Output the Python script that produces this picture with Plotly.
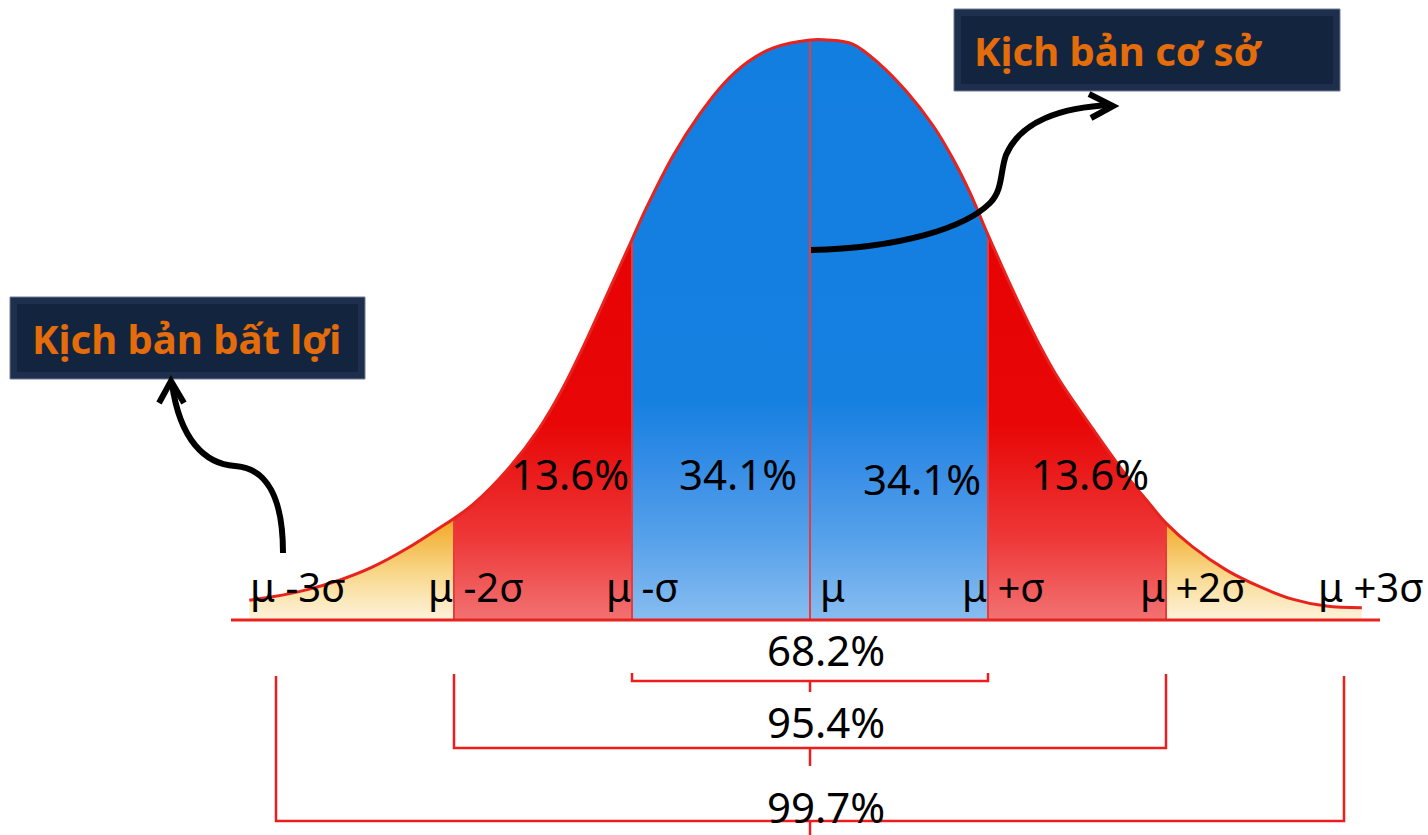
import plotly.graph_objects as go

# Bell curve outline, read as (position in sigma, height relative to the peak)
curve_sigma = [-3.15, -3.02, -2.83, -2.64, -2.46, -2.26, -2.08, -2.00, -1.89, -1.70,
               -1.52, -1.40, -1.28, -1.14, -1.00, -0.92, -0.77, -0.62, -0.49, -0.35,
               -0.21, 0.00, 0.10, 0.24, 0.39, 0.54, 0.69, 0.80, 0.90, 1.00,
               1.16, 1.29, 1.40, 1.59, 1.78, 1.89, 2.00, 2.15, 2.34, 2.53,
               2.71, 2.90, 3.10]
curve_height = [0.034, 0.040, 0.052, 0.069, 0.091, 0.124, 0.159, 0.175, 0.200, 0.259,
                0.331, 0.393, 0.467, 0.561, 0.656, 0.710, 0.800, 0.872, 0.923, 0.962,
                0.986, 1.000, 1.000, 0.993, 0.959, 0.912, 0.853, 0.797, 0.736, 0.664,
                0.555, 0.474, 0.414, 0.329, 0.248, 0.207, 0.167, 0.126, 0.086, 0.057,
                0.036, 0.024, 0.021]

# Bands between boundaries and the share of observations in each
band_edges = [-2, -1, 0, 1, 2]
band_pcts = [13.6, 34.1, 34.1, 13.6]

# Axis marks under the curve
tick_sigma = [-3, -2, -1, 0, 1, 2, 3]
tick_labels = ["μ -3σ", "μ -2σ", "μ -σ", "μ", "μ +σ", "μ +2σ", "μ +3σ"]

# Coverage brackets: half-width in sigma and total share inside
coverage_half = [1, 2, 3]
coverage_pcts = [68.2, 95.4, 99.7]

# Scenario call-outs
base_case = "Kịch bản cơ sở"
adverse_case = "Kịch bản bất lợi"

W, H = 1428, 835
MU_PX, SIGMA_PX = 810, 178          # horizontal placement of mu and one sigma
BASE_PX, PEAK_PX = 620, 580         # baseline row and peak height in pixels

FONT = "Noto Sans"
RED_LINE = "#e8231e"
X_LO, X_HI = -MU_PX / SIGMA_PX, (W - MU_PX) / SIGMA_PX


def height_at(s):
    return curve_height[curve_sigma.index(s)]


def paper(x, y):
    return x / W, 1 - y / H


def sigma_to_paper(s):
    return (MU_PX + s * SIGMA_PX) / W


def path(cmds):
    out = []
    for c in cmds:
        if isinstance(c, str):
            out.append(c)
        else:
            px, py = paper(*c)
            out.append(f"{px:.5f},{py:.5f}")
    return " ".join(out)


def yv(py):
    return (BASE_PX - py) / PEAK_PX


fig = go.Figure()
layout_axes = {}

# Each coloured region is the whole curve drawn on its own x-axis whose
# domain covers just that region, so every fill shares one smooth outline.
tail_scale = [[0, "#fdf3dc"], [0.45, "#f9d98f"], [1, "#f1aa28"]]
red_scale = [[0, "#f27272"], [0.14, "#ee3838"], [0.25, "#ea1c1c"], [0.34, "#e80606"], [1, "#e80000"]]
blue_scale = [[0, "#88bdf0"], [0.14, "#56a1ea"], [0.25, "#3a8fe6"], [0.38, "#1580e0"], [1, "#127ee0"]]

regions = [(X_LO, band_edges[0], tail_scale, 0.17)]
for lo, hi in zip(band_edges[:-1], band_edges[1:]):
    regions.append((lo, hi, blue_scale if abs(lo + hi) < 2 else red_scale, 1.0))
regions.append((band_edges[-1], X_HI, tail_scale, 0.17))

k = 1
for lo, hi, scale, stop in regions:
    k += 1
    layout_axes[f"xaxis{k}"] = dict(domain=[max(0, sigma_to_paper(lo)), min(1, sigma_to_paper(hi))],
                                    range=[lo, hi], visible=False, fixedrange=True, anchor="y")
    fig.add_trace(go.Scatter(
        x=curve_sigma, y=curve_height, xaxis=f"x{k}", yaxis="y",
        mode="lines", line=dict(width=0, shape="spline"), fill="tozeroy",
        fillgradient=dict(type="vertical", colorscale=scale, start=0, stop=stop),
        hoverinfo="skip"))

# Line work sits on a full-width axis drawn after the fills
k += 1
LX = f"x{k}"
layout_axes[f"xaxis{k}"] = dict(domain=[0, 1], range=[X_LO, X_HI], visible=False,
                                fixedrange=True, anchor="y")

# Band separators
sep_x, sep_y = [], []
for e in band_edges:
    sep_x += [e, e, None]
    sep_y += [0, height_at(float(e)), None]
fig.add_trace(go.Scatter(x=sep_x, y=sep_y, xaxis=LX, mode="lines",
                         line=dict(color="#e83c3c", width=2), hoverinfo="skip"))

# Curve outline
fig.add_trace(go.Scatter(x=curve_sigma, y=curve_height, xaxis=LX, mode="lines",
                         line=dict(color=RED_LINE, width=3, shape="spline"),
                         hoverinfo="skip"))

# Baseline
fig.add_trace(go.Scatter(x=[(231 - MU_PX) / SIGMA_PX, (1380 - MU_PX) / SIGMA_PX], y=[0, 0],
                         xaxis=LX, mode="lines", line=dict(color=RED_LINE, width=3),
                         hoverinfo="skip"))

# Coverage brackets below the axis
bracket_rows = [(673, 681, 692, 649), (674, 748, 766, 721), (676, 821, 835, 806)]
annotations = []
for half, pct, (top, bar, tick, lab) in zip(coverage_half, coverage_pcts, bracket_rows):
    fig.add_trace(go.Scatter(x=[-half, -half, half, half], y=[yv(top), yv(bar), yv(bar), yv(top)],
                             xaxis=LX, mode="lines", line=dict(color="#ee1c1c", width=2.5),
                             hoverinfo="skip"))
    fig.add_trace(go.Scatter(x=[0, 0], y=[yv(bar), yv(tick)], xaxis=LX, mode="lines",
                             line=dict(color="#ee1c1c", width=2.5), hoverinfo="skip"))
    annotations.append(dict(x=0, y=yv(lab), xref="x", yref="y", text=f"{pct}%",
                            showarrow=False, xanchor="center", yanchor="middle", xshift=16,
                            font=dict(family=FONT, size=42, color="#000000")))

# Band shares inside the curve
band_label_pos = [(570, 473), (738, 473), (922, 478), (1090, 473)]
for pct, (lx, ly) in zip(band_pcts, band_label_pos):
    annotations.append(dict(x=(lx - MU_PX) / SIGMA_PX, y=yv(ly), xref="x", yref="y",
                            text=f"{pct}%", showarrow=False, xanchor="center", yanchor="middle",
                            font=dict(family=FONT, size=42, color="#000000")))

# Sigma tick labels, mu sits just left of each boundary
for s, t in zip(tick_sigma, tick_labels):
    annotations.append(dict(x=s, y=yv(586), xref="x", yref="y", text=t, showarrow=False,
                            xanchor="left", yanchor="middle", xshift=8 if s == 0 else -28,
                            font=dict(family=FONT, size=40, color="#000000")))

shapes = []


def callout(x0, y0, x1, y1, text, tx):
    a0, b1 = paper(x0, y1)
    a1, b0 = paper(x1, y0)
    shapes.append(dict(type="rect", xref="paper", yref="paper", x0=a0, x1=a1, y0=b1, y1=b0,
                       fillcolor="#1d2f4c", line=dict(color="#6e7d92", width=1)))
    c0, d1 = paper(x0 + 7, y1 - 7)
    c1, d0 = paper(x1 - 7, y0 + 7)
    shapes.append(dict(type="rect", xref="paper", yref="paper", x0=c0, x1=c1, y0=d1, y1=d0,
                       fillcolor="#13243e", line=dict(width=0)))
    ax, ay = paper(tx, (y0 + y1) / 2)
    annotations.append(dict(x=ax, y=ay, xref="paper", yref="paper", text=f"<b>{text}</b>",
                            showarrow=False, xanchor="left", yanchor="middle",
                            font=dict(family=FONT, size=40, color="#e46c0a")))


callout(954, 9, 1340, 91, base_case, 972)
callout(10, 297, 365, 379, adverse_case, 30)

arrow_style = dict(type="path", xref="paper", yref="paper", line=dict(color="#000000", width=6))
# Arrow from the centre of the curve to the base-case box
shapes.append(dict(path=path(["M", (811, 250), "C", (900, 248), (965, 228), (990, 203),
                              "C", (1003, 190), (1000, 172), (1006, 155),
                              "C", (1020, 122), (1060, 107), (1112, 105)]), **arrow_style))
shapes.append(dict(path=path(["M", (1089, 94), "L", (1113, 106), "L", (1091, 118)]), **arrow_style))
# Arrow from the left tail to the adverse box
shapes.append(dict(path=path(["M", (283, 553), "C", (283, 500), (268, 468), (235, 466),
                              "C", (205, 464), (180, 440), (172, 384)]), **arrow_style))
shapes.append(dict(path=path(["M", (159, 403), "L", (171, 381), "L", (184, 403)]), **arrow_style))

fig.update_layout(
    width=W, height=H, margin=dict(l=0, r=0, t=0, b=0),
    paper_bgcolor="#ffffff", plot_bgcolor="rgba(0,0,0,0)", showlegend=False,
    xaxis=dict(range=[X_LO, X_HI], visible=False, fixedrange=True),
    yaxis=dict(range=[yv(H), yv(0)], visible=False, fixedrange=True),
    annotations=annotations, shapes=shapes,
    **layout_axes,
)

fig.write_html("out.html", config={"displayModeBar": False})
